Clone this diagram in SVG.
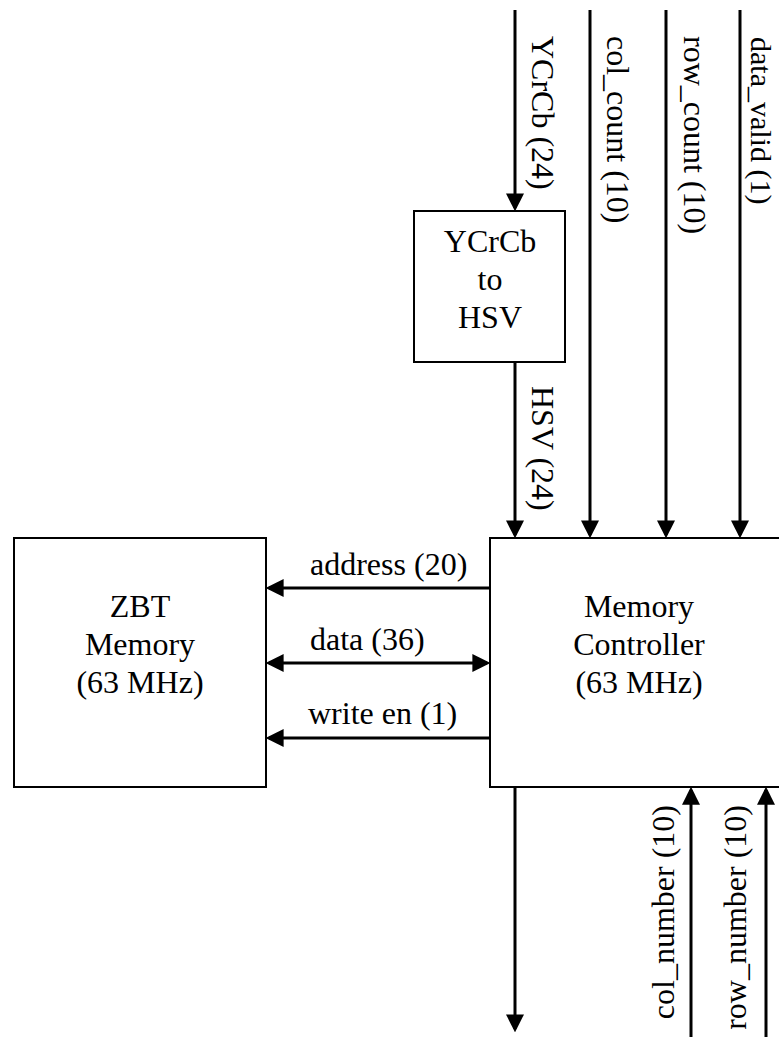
<svg xmlns="http://www.w3.org/2000/svg" width="779" height="1037" viewBox="0 0 779 1037">
<style>
.box{fill:#fff;stroke:#000;stroke-width:2}
.t{font-family:"Liberation Serif","Times New Roman",serif;font-size:32px;fill:#000}
.c{text-anchor:middle}
.w{fill:none;stroke:#000;stroke-width:3}
</style>
<defs>
<marker id="ah" markerUnits="userSpaceOnUse" markerWidth="18" markerHeight="18" refX="13" refY="8" orient="auto-start-reverse" viewBox="0 0 16 16">
<path d="M0,0 L16,8 L0,16 z" fill="#000"/>
</marker>
</defs>
<rect width="779" height="1037" fill="#fff"/>
<g id="zbt">
<rect class="box" x="14" y="538" width="252" height="249"/>
<text class="t c" x="140" y="617">ZBT</text>
<text class="t c" x="140" y="655">Memory</text>
<text class="t c" x="140" y="693">(63 MHz)</text>
</g>
<g id="ctrl">
<rect class="box" x="490" y="538" width="300" height="249"/>
<text class="t c" x="639" y="617">Memory</text>
<text class="t c" x="639" y="655">Controller</text>
<text class="t c" x="639" y="693">(63 MHz)</text>
</g>
<g id="conv">
<rect class="box" x="414" y="211" width="151" height="151"/>
<text class="t c" x="490" y="252">YCrCb</text>
<text class="t c" x="490" y="290">to</text>
<text class="t c" x="490" y="328">HSV</text>
</g>
<g id="connectors">
<line class="w" x1="515" y1="10" x2="515" y2="208" marker-end="url(#ah)"/>
<line class="w" x1="590" y1="10" x2="590" y2="535" marker-end="url(#ah)"/>
<line class="w" x1="666" y1="10" x2="666" y2="535" marker-end="url(#ah)"/>
<line class="w" x1="740" y1="10" x2="740" y2="535" marker-end="url(#ah)"/>
<line class="w" x1="515" y1="362" x2="515" y2="535" marker-end="url(#ah)"/>
<line class="w" x1="490" y1="588" x2="269" y2="588" marker-end="url(#ah)"/>
<line class="w" x1="269" y1="663" x2="487" y2="663" marker-start="url(#ah)" marker-end="url(#ah)"/>
<line class="w" x1="490" y1="738" x2="269" y2="738" marker-end="url(#ah)"/>
<line class="w" x1="515" y1="787" x2="515" y2="1029" marker-end="url(#ah)"/>
<line class="w" x1="691" y1="1037" x2="691" y2="790" marker-end="url(#ah)"/>
<line class="w" x1="766" y1="1037" x2="766" y2="790" marker-end="url(#ah)"/>
</g>
<g id="labels">
<text class="t" transform="translate(532,36) rotate(90)">YCrCb (24)</text>
<text class="t" transform="translate(607,36) rotate(90)">col_count (10)</text>
<text class="t" transform="translate(684,36) rotate(90)">row_count (10)</text>
<text class="t" style="font-size:30px" transform="translate(751,37) rotate(90)">data_valid (1)</text>
<text class="t" transform="translate(532,386) rotate(90)">HSV (24)</text>
<text class="t" x="310" y="575">address (20)</text>
<text class="t" x="310" y="650">data (36)</text>
<text class="t" x="308" y="724">write en (1)</text>
<text class="t" text-anchor="end" transform="translate(674,805) rotate(-90)">col_number (10)</text>
<text class="t" text-anchor="end" transform="translate(746,805) rotate(-90)">row_number (10)</text>
</g>
</svg>
